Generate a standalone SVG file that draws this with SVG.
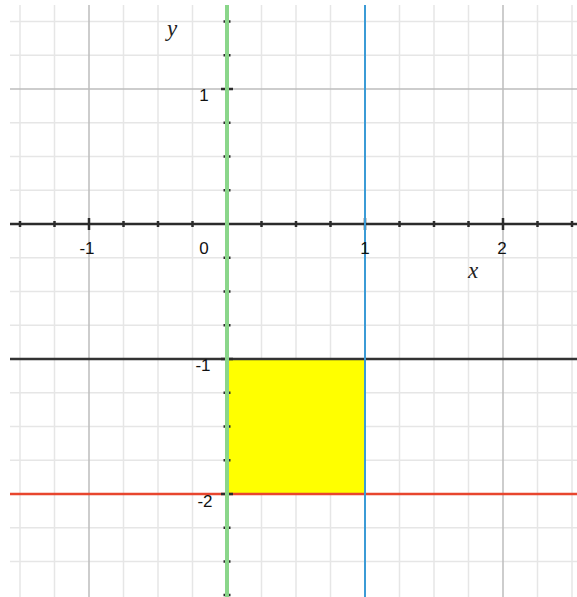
<svg xmlns="http://www.w3.org/2000/svg" width="577" height="597" viewBox="0 0 577 597">
<style>
.minor{stroke:#e6e6e6;stroke-width:1.5}
.major{stroke:#bdbdbd;stroke-width:1.5}
.axis{stroke:#2b2b2b;stroke-width:2.5}
.tick{stroke:#2b2b2b;stroke-width:2.5}
.num{font-family:"Liberation Sans",Arial,sans-serif;font-size:17px;fill:#111;text-anchor:middle}
.var{font-family:"Liberation Serif","Times New Roman",serif;font-style:italic;font-size:23px;fill:#222;text-anchor:middle}
</style>
<rect width="577" height="597" fill="#ffffff"/>
<g id="grid">
<g class="minor">
<line x1="20" y1="5" x2="20" y2="597"/>
<line x1="54.5" y1="5" x2="54.5" y2="597"/>
<line x1="123.5" y1="5" x2="123.5" y2="597"/>
<line x1="158" y1="5" x2="158" y2="597"/>
<line x1="192.5" y1="5" x2="192.5" y2="597"/>
<line x1="261.5" y1="5" x2="261.5" y2="597"/>
<line x1="296" y1="5" x2="296" y2="597"/>
<line x1="330.5" y1="5" x2="330.5" y2="597"/>
<line x1="399.5" y1="5" x2="399.5" y2="597"/>
<line x1="434" y1="5" x2="434" y2="597"/>
<line x1="468.5" y1="5" x2="468.5" y2="597"/>
<line x1="537.5" y1="5" x2="537.5" y2="597"/>
<line x1="572" y1="5" x2="572" y2="597"/>
<line x1="10" y1="21.5" x2="577" y2="21.5"/>
<line x1="10" y1="55.25" x2="577" y2="55.25"/>
<line x1="10" y1="122.75" x2="577" y2="122.75"/>
<line x1="10" y1="156.5" x2="577" y2="156.5"/>
<line x1="10" y1="190.25" x2="577" y2="190.25"/>
<line x1="10" y1="257.75" x2="577" y2="257.75"/>
<line x1="10" y1="291.5" x2="577" y2="291.5"/>
<line x1="10" y1="325.25" x2="577" y2="325.25"/>
<line x1="10" y1="392.75" x2="577" y2="392.75"/>
<line x1="10" y1="426.5" x2="577" y2="426.5"/>
<line x1="10" y1="460.25" x2="577" y2="460.25"/>
<line x1="10" y1="527.75" x2="577" y2="527.75"/>
<line x1="10" y1="561.5" x2="577" y2="561.5"/>
</g>
<g class="major">
<line x1="89" y1="5" x2="89" y2="597"/>
<line x1="503" y1="5" x2="503" y2="597"/>
<line x1="10" y1="89" x2="577" y2="89"/>
</g>
</g>
<g id="region">
<rect x="227" y="359" width="138" height="135" fill="#ffff00"/>
</g>
<g id="connectors">
<line id="line-y-minus1" x1="10" y1="359" x2="577" y2="359" stroke="#333333" stroke-width="2.5"/>
<line id="line-y-minus2" x1="10" y1="494" x2="577" y2="494" stroke="#e8462e" stroke-width="2.5"/>
<g id="x-axis">
<line class="axis" x1="10" y1="224" x2="577" y2="224"/>
<g class="tick">
<line x1="20" y1="221" x2="20" y2="227"/>
<line x1="54.5" y1="221" x2="54.5" y2="227"/>
<line x1="89" y1="218" x2="89" y2="230"/>
<line x1="123.5" y1="221" x2="123.5" y2="227"/>
<line x1="158" y1="221" x2="158" y2="227"/>
<line x1="192.5" y1="221" x2="192.5" y2="227"/>
<line x1="261.5" y1="221" x2="261.5" y2="227"/>
<line x1="296" y1="221" x2="296" y2="227"/>
<line x1="330.5" y1="221" x2="330.5" y2="227"/>
<line x1="365" y1="218" x2="365" y2="230"/>
<line x1="399.5" y1="221" x2="399.5" y2="227"/>
<line x1="434" y1="221" x2="434" y2="227"/>
<line x1="468.5" y1="221" x2="468.5" y2="227"/>
<line x1="503" y1="218" x2="503" y2="230"/>
<line x1="537.5" y1="221" x2="537.5" y2="227"/>
<line x1="572" y1="221" x2="572" y2="227"/>
</g>
</g>
<g id="y-axis">
<g class="tick">
<line x1="223.5" y1="21.5" x2="230.5" y2="21.5"/>
<line x1="223.5" y1="55.25" x2="230.5" y2="55.25"/>
<line x1="221" y1="89" x2="233" y2="89"/>
<line x1="223.5" y1="122.75" x2="230.5" y2="122.75"/>
<line x1="223.5" y1="156.5" x2="230.5" y2="156.5"/>
<line x1="223.5" y1="190.25" x2="230.5" y2="190.25"/>
<line x1="223.5" y1="257.75" x2="230.5" y2="257.75"/>
<line x1="223.5" y1="291.5" x2="230.5" y2="291.5"/>
<line x1="223.5" y1="325.25" x2="230.5" y2="325.25"/>
<line x1="221" y1="359" x2="233" y2="359"/>
<line x1="223.5" y1="392.75" x2="230.5" y2="392.75"/>
<line x1="223.5" y1="426.5" x2="230.5" y2="426.5"/>
<line x1="223.5" y1="460.25" x2="230.5" y2="460.25"/>
<line x1="221" y1="494" x2="233" y2="494"/>
<line x1="223.5" y1="527.75" x2="230.5" y2="527.75"/>
<line x1="223.5" y1="561.5" x2="230.5" y2="561.5"/>
<line x1="223.5" y1="595" x2="230.5" y2="595"/>
</g>
</g>
<line id="line-x0" x1="227" y1="5" x2="227" y2="597" stroke="#8ad68a" stroke-width="4"/>
<line id="line-x1" x1="365" y1="5" x2="365" y2="597" stroke="#3b9bd6" stroke-width="2"/>
</g>
<g id="labels">
<text class="num" x="87" y="254">-1</text>
<text class="num" x="204" y="254">0</text>
<text class="num" x="365" y="254">1</text>
<text class="num" x="502" y="254">2</text>
<text class="num" x="204" y="101">1</text>
<text class="num" x="203" y="371">-1</text>
<text class="num" x="205" y="507">-2</text>
<text class="var" x="473" y="278">x</text>
<text class="var" x="172" y="36">y</text>
</g>
</svg>
